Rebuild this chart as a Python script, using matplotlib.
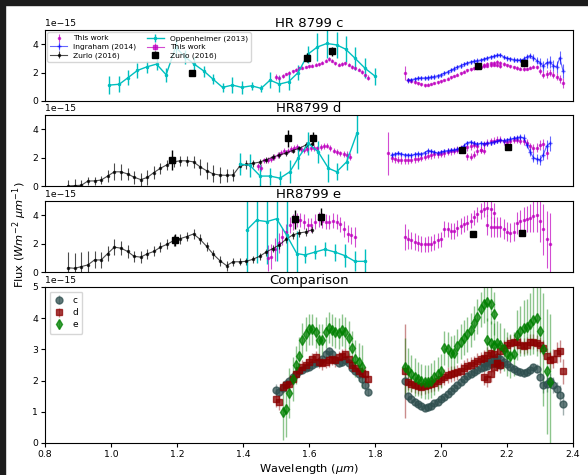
import numpy as np
import matplotlib
matplotlib.use("Agg")
import matplotlib.pyplot as plt
from matplotlib.patches import Rectangle

SCALE = 1e-15  # fluxes below are in units of 1e-15 W m^-2 um^-1

# ---------------- GPI spectra (this work) ----------------
h_wl = [1.50, 1.51, 1.52, 1.53, 1.54, 1.55, 1.56, 1.57, 1.58, 1.59, 1.60, 1.61, 1.62, 1.63, 1.64,
        1.65, 1.66, 1.67, 1.68, 1.69, 1.70, 1.71, 1.72, 1.73, 1.74, 1.75, 1.76, 1.77, 1.78]
k1_wl = [1.89, 1.90, 1.91, 1.92, 1.93, 1.94, 1.95, 1.96, 1.97, 1.98, 1.99, 2.00, 2.01, 2.02, 2.03,
         2.04, 2.05, 2.06, 2.07, 2.08, 2.09, 2.10, 2.11, 2.12, 2.13, 2.14, 2.15, 2.16, 2.17, 2.18]
k2_wl = [2.13, 2.14, 2.15, 2.16, 2.17, 2.18, 2.19, 2.20, 2.21, 2.22, 2.23, 2.24, 2.25, 2.26, 2.27,
         2.28, 2.29, 2.30, 2.31, 2.32, 2.33, 2.34, 2.35, 2.36, 2.37]

c_h_flux = [1.70, 1.65, 1.75, 1.90, 2.00, 2.10, 2.20, 2.30, 2.35, 2.40, 2.45, 2.50, 2.55, 2.60, 2.70,
            2.85, 2.95, 2.85, 2.65, 2.55, 2.60, 2.65, 2.55, 2.40, 2.30, 2.20, 2.05, 1.85, 1.65]
c_h_err = [0.20, 0.15, 0.12, 0.10, 0.10, 0.10, 0.10, 0.10, 0.10, 0.10, 0.10, 0.10, 0.10, 0.10, 0.10,
           0.12, 0.12, 0.12, 0.12, 0.12, 0.12, 0.12, 0.12, 0.12, 0.12, 0.12, 0.12, 0.15, 0.15]
c_k1_flux = [2.00, 1.50, 1.40, 1.33, 1.25, 1.17, 1.12, 1.14, 1.20, 1.27, 1.33, 1.40, 1.48, 1.57, 1.67,
             1.76, 1.86, 1.96, 2.06, 2.15, 2.22, 2.29, 2.35, 2.40, 2.44, 2.48, 2.52, 2.55, 2.52, 2.50]
c_k1_err = [0.50, 0.15, 0.12, 0.10, 0.10, 0.10, 0.10, 0.10, 0.10, 0.10, 0.10, 0.10, 0.10, 0.10, 0.10,
            0.10, 0.10, 0.10, 0.10, 0.10, 0.10, 0.10, 0.10, 0.10, 0.10, 0.10, 0.10, 0.12, 0.12, 0.15]
c_k2_flux = [2.55, 2.60, 2.65, 2.70, 2.75, 2.70, 2.60, 2.52, 2.45, 2.38, 2.32, 2.27, 2.25, 2.28, 2.35,
             2.42, 2.38, 2.10, 1.85, 1.90, 2.00, 1.85, 1.72, 1.55, 1.25]
c_k2_err = [0.12, 0.12, 0.12, 0.12, 0.12, 0.12, 0.12, 0.12, 0.12, 0.12, 0.12, 0.12, 0.12, 0.12, 0.12,
            0.12, 0.15, 0.20, 0.25, 0.25, 0.25, 0.25, 0.25, 0.30, 0.35]

d_h_flux = [1.40, 1.30, 1.80, 1.85, 1.90, 2.05, 2.20, 2.35, 2.45, 2.50, 2.60, 2.70, 2.75, 2.60, 2.55,
            2.60, 2.65, 2.70, 2.65, 2.75, 2.80, 2.85, 2.70, 2.50, 2.40, 2.30, 2.25, 2.20, 2.05]
d_h_err = [0.25, 0.25, 0.20, 0.20, 0.20, 0.20, 0.20, 0.20, 0.20, 0.20, 0.20, 0.20, 0.20, 0.20, 0.20,
           0.20, 0.20, 0.20, 0.20, 0.20, 0.20, 0.20, 0.20, 0.20, 0.20, 0.20, 0.20, 0.25, 0.25]
d_k1_flux = [2.30, 1.95, 1.88, 1.85, 1.83, 1.80, 1.82, 1.86, 1.88, 1.92, 1.98, 2.05, 2.12, 2.18, 2.22,
             2.23, 2.26, 2.32, 2.40, 2.46, 2.50, 2.55, 2.62, 2.68, 2.74, 2.82, 2.90, 2.85, 2.55, 2.50]
d_k1_err = [1.50, 0.25, 0.25, 0.25, 0.25, 0.25, 0.25, 0.25, 0.25, 0.25, 0.25, 0.25, 0.25, 0.25, 0.25,
            0.25, 0.25, 0.25, 0.25, 0.25, 0.25, 0.25, 0.25, 0.25, 0.25, 0.25, 0.25, 0.25, 0.25, 0.25]
d_k2_flux = [2.10, 2.05, 2.20, 2.45, 2.55, 2.95, 3.05, 3.15, 3.20, 3.25, 3.25, 3.15, 3.10, 3.15, 3.25,
             3.25, 3.20, 3.15, 3.05, 2.80, 2.65, 2.70, 2.90, 2.95, 2.30]
d_k2_err = [0.25, 0.25, 0.25, 0.25, 0.25, 0.25, 0.25, 0.25, 0.25, 0.25, 0.25, 0.25, 0.25, 0.25, 0.25,
            0.25, 0.25, 0.25, 0.25, 0.25, 0.30, 0.30, 0.35, 0.35, 0.40]

e_h_wl = [1.52, 1.53, 1.54, 1.55, 1.56, 1.57, 1.58, 1.59, 1.60, 1.61, 1.62, 1.63, 1.64, 1.65, 1.66,
          1.67, 1.68, 1.69, 1.70, 1.71, 1.72, 1.73, 1.74, 1.75, 1.76]
e_h_flux = [1.00, 1.08, 1.60, 2.05, 2.50, 2.80, 3.30, 3.50, 3.65, 3.65, 3.55, 3.30, 3.30, 3.55, 3.70,
            3.62, 3.55, 3.52, 3.62, 3.55, 3.35, 3.05, 2.70, 2.60, 2.45]
e_h_err = [0.90, 0.90, 0.80, 0.70, 0.60, 0.60, 0.55, 0.55, 0.50, 0.50, 0.50, 0.50, 0.50, 0.50, 0.50,
           0.50, 0.50, 0.50, 0.50, 0.50, 0.55, 0.55, 0.60, 0.60, 0.70]
e_k1_wl = [1.89, 1.90, 1.91, 1.92, 1.93, 1.94, 1.95, 1.96, 1.97, 1.98, 1.99, 2.00, 2.01, 2.02, 2.03,
           2.04, 2.05, 2.06, 2.07, 2.08, 2.09, 2.10, 2.11, 2.12, 2.13, 2.14, 2.15, 2.16]
e_k1_flux = [2.45, 2.35, 2.22, 2.12, 2.05, 1.98, 1.95, 1.96, 2.00, 2.10, 2.22, 2.30, 3.05, 3.00, 2.88,
             2.90, 3.10, 3.25, 3.38, 3.48, 3.62, 3.85, 4.05, 4.28, 4.45, 4.52, 4.45, 4.15]
e_k1_err = [0.90, 0.70, 0.60, 0.60, 0.55, 0.55, 0.55, 0.55, 0.55, 0.55, 0.55, 0.55, 0.55, 0.55, 0.55,
            0.55, 0.55, 0.55, 0.55, 0.55, 0.55, 0.55, 0.55, 0.55, 0.60, 0.60, 0.65, 0.70]
e_k2_wl = [2.14, 2.15, 2.16, 2.17, 2.18, 2.19, 2.20, 2.21, 2.22, 2.23, 2.24, 2.25, 2.26, 2.27, 2.28,
           2.29, 2.30, 2.31, 2.32, 2.33]
e_k2_flux = [3.30, 3.20, 3.15, 3.20, 3.15, 3.00, 2.85, 2.78, 2.85, 3.45, 3.60, 3.68, 3.72, 3.82, 3.95,
             4.00, 3.60, 3.00, 2.30, 1.95]
e_k2_err = [0.70, 0.70, 0.70, 0.70, 0.70, 0.70, 0.70, 0.70, 0.70, 0.80, 0.80, 0.90, 0.90, 1.00, 1.10,
            1.20, 1.50, 1.80, 2.00, 2.20]

# wavelength positions of the GPI channels in the HR8799 d and e panels
d_h_wl_panel = [1.445, 1.455, 1.465, 1.475, 1.485, 1.495, 1.505, 1.515, 1.525, 1.535, 1.545, 1.555,
                1.565, 1.575, 1.585, 1.595, 1.605, 1.615, 1.625, 1.635, 1.645, 1.655, 1.665, 1.675,
                1.685, 1.695, 1.705, 1.715, 1.725]
d_k1_wl_panel = [1.84, 1.85, 1.86, 1.87, 1.88, 1.89, 1.90, 1.91, 1.92, 1.93, 1.94, 1.95, 1.96, 1.97,
                 1.98, 1.99, 2.00, 2.01, 2.02, 2.03, 2.04, 2.05, 2.06, 2.07, 2.08, 2.09, 2.10, 2.11,
                 2.12, 2.13]
d_k2_wl_panel = [2.08, 2.09, 2.10, 2.11, 2.12, 2.13, 2.14, 2.15, 2.16, 2.17, 2.18, 2.19, 2.20, 2.21,
                 2.22, 2.23, 2.24, 2.25, 2.26, 2.27, 2.28, 2.29, 2.30, 2.31, 2.32]
e_h_wl_panel = [1.475, 1.486, 1.497, 1.508, 1.519, 1.530, 1.541, 1.552, 1.563, 1.574, 1.585, 1.596,
                1.607, 1.618, 1.629, 1.640, 1.651, 1.662, 1.673, 1.684, 1.695, 1.706, 1.717, 1.728,
                1.739]

# ---------------- Literature data ----------------
ingraham_c_wl = [1.90, 1.91, 1.92, 1.93, 1.94, 1.95, 1.96, 1.97, 1.98, 1.99, 2.00, 2.01, 2.02, 2.03,
                 2.04, 2.05, 2.06, 2.07, 2.08, 2.09, 2.10, 2.11, 2.12, 2.13, 2.14, 2.15, 2.16, 2.17,
                 2.18, 2.19, 2.20, 2.21, 2.22, 2.23, 2.24, 2.25, 2.26, 2.27, 2.28, 2.29, 2.30, 2.31,
                 2.32, 2.33, 2.34, 2.35, 2.36, 2.37]
ingraham_c_flux = [1.45, 1.50, 1.55, 1.60, 1.62, 1.62, 1.65, 1.68, 1.72, 1.78, 1.85, 1.95, 2.05, 2.17,
                   2.28, 2.40, 2.50, 2.58, 2.68, 2.75, 2.80, 2.85, 2.88, 2.95, 3.02, 3.10, 3.15, 3.22,
                   3.25, 3.10, 3.00, 2.98, 2.92, 2.88, 2.87, 2.95, 3.10, 3.20, 3.05, 2.85, 2.70, 2.45,
                   2.70, 2.75, 2.50, 2.40, 3.05, 2.10]
ingraham_c_err = [0.15, 0.15, 0.15, 0.15, 0.15, 0.15, 0.15, 0.15, 0.15, 0.15, 0.15, 0.15, 0.15, 0.15,
                  0.15, 0.15, 0.15, 0.15, 0.15, 0.15, 0.15, 0.15, 0.15, 0.15, 0.15, 0.15, 0.15, 0.15,
                  0.15, 0.15, 0.15, 0.15, 0.15, 0.15, 0.15, 0.20, 0.20, 0.20, 0.25, 0.25, 0.30, 0.35,
                  0.35, 0.40, 0.40, 0.45, 0.45, 0.50]

ingraham_d_wl = [1.85, 1.86, 1.87, 1.88, 1.89, 1.90, 1.91, 1.92, 1.93, 1.94, 1.95, 1.96, 1.97, 1.98,
                 1.99, 2.00, 2.01, 2.02, 2.03, 2.04, 2.05, 2.06, 2.07, 2.08, 2.09, 2.10, 2.11, 2.12,
                 2.13, 2.14, 2.15, 2.16, 2.17, 2.18, 2.19, 2.20, 2.21, 2.22, 2.23, 2.24, 2.25, 2.26,
                 2.27, 2.28, 2.29, 2.30, 2.31, 2.32, 2.33]
ingraham_d_flux = [2.18, 2.25, 2.30, 2.25, 2.20, 2.18, 2.15, 2.22, 2.28, 2.25, 2.35, 2.50, 2.45, 2.38,
                   2.32, 2.40, 2.45, 2.50, 2.52, 2.55, 2.60, 2.70, 2.85, 3.05, 3.10, 3.00, 2.95, 3.00,
                   2.98, 3.00, 3.05, 3.10, 3.15, 3.22, 3.20, 3.25, 3.30, 3.35, 3.40, 3.45, 3.40, 2.90,
                   2.40, 2.00, 1.90, 1.85, 2.20, 2.80, 3.00]
ingraham_d_err = [0.20, 0.15, 0.15, 0.15, 0.15, 0.15, 0.15, 0.15, 0.15, 0.15, 0.15, 0.15, 0.15, 0.15,
                  0.15, 0.15, 0.15, 0.15, 0.15, 0.15, 0.15, 0.15, 0.15, 0.15, 0.15, 0.15, 0.15, 0.15,
                  0.15, 0.15, 0.15, 0.15, 0.15, 0.15, 0.15, 0.15, 0.20, 0.20, 0.20, 0.20, 0.25, 0.25,
                  0.30, 0.30, 0.35, 0.35, 0.40, 0.45, 0.50]

oppenheimer_c_wl = [0.995, 1.025, 1.052, 1.080, 1.108, 1.138, 1.167, 1.196, 1.224, 1.252, 1.282,
                    1.310, 1.338, 1.368, 1.396, 1.426, 1.455, 1.482, 1.510, 1.538, 1.567, 1.597,
                    1.625, 1.654, 1.684, 1.711, 1.740, 1.770, 1.800]
oppenheimer_c_flux = [1.12, 1.18, 1.65, 2.15, 2.40, 2.60, 1.85, 3.80, 3.10, 2.60, 2.10, 1.52, 0.96,
                      1.12, 0.96, 1.07, 0.89, 1.47, 1.19, 1.35, 2.00, 3.30, 3.80, 4.05, 3.95, 3.65,
                      3.00, 2.30, 1.75]
oppenheimer_c_err = [0.65, 0.55, 0.55, 0.50, 0.40, 0.40, 0.50, 0.60, 0.50, 0.50, 0.40, 0.35, 0.30,
                     0.55, 0.45, 0.30, 0.25, 0.55, 0.55, 0.55, 0.55, 0.60, 1.00, 1.00, 0.90, 0.90,
                     0.80, 0.70, 0.60]

oppenheimer_d_wl = [1.391, 1.421, 1.452, 1.482, 1.512, 1.542, 1.568, 1.598, 1.628, 1.659, 1.684,
                    1.714, 1.745]
oppenheimer_d_flux = [1.55, 1.45, 0.70, 0.70, 0.55, 1.00, 2.00, 3.00, 2.40, 1.25, 1.00, 1.70, 3.70]
oppenheimer_d_err = [0.80, 0.80, 0.80, 0.60, 0.50, 0.80, 0.80, 0.80, 0.80, 1.00, 0.60, 0.60, 1.40]

oppenheimer_e_wl = [1.411, 1.441, 1.472, 1.502, 1.532, 1.563, 1.588, 1.618, 1.648, 1.679, 1.709,
                    1.739, 1.770]
oppenheimer_e_flux = [2.95, 3.65, 3.55, 3.75, 2.60, 1.30, 1.20, 1.40, 1.60, 1.40, 1.15, 0.75, 0.75]
oppenheimer_e_err = [3.00, 3.00, 3.00, 3.00, 3.00, 1.60, 0.60, 0.50, 0.50, 0.60, 0.80, 0.70, 0.90]

zurlo_ifs_wl = [0.87, 0.89, 0.91, 0.93, 0.95, 0.97, 0.99, 1.01, 1.03, 1.05, 1.07, 1.09, 1.11, 1.13,
                1.15, 1.17, 1.19, 1.21, 1.23, 1.25, 1.27, 1.29, 1.31, 1.33, 1.35, 1.37, 1.39, 1.41,
                1.43, 1.45, 1.47, 1.49, 1.51, 1.53, 1.55, 1.57, 1.59, 1.61]
zurlo_d_flux = [0.00, 0.03, 0.05, 0.35, 0.36, 0.42, 0.70, 1.00, 1.00, 0.85, 0.62, 0.45, 0.60, 0.95,
                1.25, 1.50, 1.70, 1.78, 1.77, 1.70, 1.35, 1.07, 0.85, 0.77, 0.75, 0.78, 1.40, 1.52,
                1.60, 1.68, 1.85, 2.03, 2.18, 2.32, 2.50, 2.65, 2.88, 2.95]
zurlo_d_err = [0.45, 0.45, 0.40, 0.30, 0.30, 0.30, 0.45, 0.60, 0.55, 0.45, 0.45, 0.50, 0.50, 0.45,
               0.40, 0.35, 0.35, 0.35, 0.35, 0.40, 0.55, 0.60, 0.60, 0.55, 0.45, 0.40, 0.35, 0.30,
               0.25, 0.20, 0.20, 0.20, 0.20, 0.20, 0.20, 0.20, 0.20, 0.20]
zurlo_e_flux = [0.30, 0.26, 0.38, 0.50, 0.85, 0.85, 1.30, 1.75, 1.68, 1.45, 1.10, 1.05, 1.28, 1.45,
                1.75, 1.95, 2.22, 2.35, 2.50, 2.68, 2.30, 1.80, 1.25, 0.80, 0.45, 0.72, 0.72, 0.75,
                0.90, 1.10, 1.40, 1.65, 1.90, 2.30, 2.60, 2.75, 2.82, 2.98]
zurlo_e_err = [1.10, 1.10, 1.05, 1.00, 0.60, 0.55, 0.55, 0.55, 0.50, 0.45, 0.40, 0.40, 0.35, 0.35,
               0.35, 0.35, 0.40, 0.35, 0.35, 0.35, 0.35, 0.30, 0.30, 0.35, 0.35, 0.30, 0.25, 0.25,
               0.25, 0.25, 0.25, 0.25, 0.25, 0.25, 0.25, 0.25, 0.25, 0.25]

zurlo_phot_c_wl = [1.245, 1.594, 1.670, 2.112, 2.252]
zurlo_phot_c_flux = [1.95, 3.05, 3.50, 2.50, 2.70]
zurlo_phot_c_err = [0.15, 0.30, 0.30, 0.15, 0.15]
zurlo_phot_d_wl = [1.185, 1.537, 1.611, 2.063, 2.204]
zurlo_phot_d_flux = [1.85, 3.35, 3.35, 2.55, 2.75]
zurlo_phot_d_err = [0.70, 0.60, 0.45, 0.15, 0.15]
zurlo_phot_e_wl = [1.194, 1.558, 1.636, 2.098, 2.246]
zurlo_phot_e_flux = [2.25, 3.70, 3.90, 2.70, 2.75]
zurlo_phot_e_err = [0.40, 0.70, 0.60, 0.10, 0.10]


def f(values):
    return np.asarray(values) * SCALE


plt.rcParams['font.family'] = ['DejaVu Sans']
fig = plt.figure(figsize=(5.88, 4.75), dpi=100)

# dark frame along the top and left edges of the canvas
fig.patches.append(Rectangle((0, 1 - 5 / 475), 1, 5 / 475, transform=fig.transFigure,
                             color='#1c1c1c', zorder=-5))
fig.patches.append(Rectangle((0, 0), 5 / 588, 1, transform=fig.transFigure,
                             color='#1c1c1c', zorder=-5))

L, W = 45 / 588, 528 / 588


def axes_px(top, bottom):
    return fig.add_axes([L, 1 - bottom / 475, W, (bottom - top) / 475])


ax_c = axes_px(30, 101)
ax_d = axes_px(115, 186)
ax_e = axes_px(201, 272)
ax_cmp = axes_px(287, 443)

TICK = 6.7
MAG = dict(color='m', alpha=0.7, fmt='.', ms=3, elinewidth=0.8, capsize=0)
BLUE = dict(color='b', alpha=0.6, fmt='+-', ms=3, lw=0.8, elinewidth=0.8, capsize=0)
BLACK = dict(color='k', alpha=0.7, fmt='.-', ms=3, lw=0.8, elinewidth=0.8, capsize=0)
CYAN = dict(color='c', fmt='.-', ms=3, lw=1.0, elinewidth=1.0, capsize=0)
SQ = dict(color='k', fmt='s', ms=4.5, elinewidth=1.0, capsize=0, zorder=5)

# HR 8799 c
ax_c.errorbar(h_wl, f(c_h_flux), yerr=f(c_h_err), label='This work', **MAG)
ax_c.errorbar(k1_wl, f(c_k1_flux), yerr=f(c_k1_err), **MAG)
ax_c.errorbar(k2_wl, f(c_k2_flux), yerr=f(c_k2_err), **MAG)
ax_c.errorbar(ingraham_c_wl, f(ingraham_c_flux), yerr=f(ingraham_c_err), label='Ingraham (2014)', **BLUE)
ax_c.errorbar([], [], yerr=[], label='Zurlo (2016)', **BLACK)
ax_c.errorbar(oppenheimer_c_wl, f(oppenheimer_c_flux), yerr=f(oppenheimer_c_err),
              label='Oppenheimer (2013)', **CYAN)
ax_c.errorbar([], [], yerr=[], color='m', alpha=0.7, fmt='s-', ms=3, lw=0.8, label='This work')
ax_c.errorbar(zurlo_phot_c_wl, f(zurlo_phot_c_flux), yerr=f(zurlo_phot_c_err),
              label='Zurlo (2016)', **SQ)
ax_c.legend(loc='upper left', ncol=2, fontsize=5.4, framealpha=0.8, borderpad=0.4,
            labelspacing=0.25, handlelength=2.2, columnspacing=1.5, borderaxespad=0.3)
ax_c.set_title('HR 8799 c', fontsize=9.5, pad=1.5)

# HR8799 d
ax_d.errorbar(d_h_wl_panel, f(d_h_flux), yerr=f(d_h_err), **MAG)
ax_d.errorbar(d_k1_wl_panel, f(d_k1_flux), yerr=f(d_k1_err), **MAG)
ax_d.errorbar(d_k2_wl_panel, f(d_k2_flux), yerr=f(d_k2_err), **MAG)
ax_d.errorbar(ingraham_d_wl, f(ingraham_d_flux), yerr=f(ingraham_d_err), **BLUE)
ax_d.errorbar(zurlo_ifs_wl, f(zurlo_d_flux), yerr=f(zurlo_d_err), **BLACK)
ax_d.errorbar(oppenheimer_d_wl, f(oppenheimer_d_flux), yerr=f(oppenheimer_d_err), **CYAN)
ax_d.errorbar(zurlo_phot_d_wl, f(zurlo_phot_d_flux), yerr=f(zurlo_phot_d_err), **SQ)
ax_d.set_title('HR8799 d', fontsize=9.5, pad=1.5)

# HR8799 e
ax_e.errorbar(e_h_wl_panel, f(e_h_flux), yerr=f(e_h_err), **MAG)
ax_e.errorbar(e_k1_wl, f(e_k1_flux), yerr=f(e_k1_err), **MAG)
ax_e.errorbar(e_k2_wl, f(e_k2_flux), yerr=f(e_k2_err), **MAG)
ax_e.errorbar(zurlo_ifs_wl, f(zurlo_e_flux), yerr=f(zurlo_e_err), **BLACK)
ax_e.errorbar(oppenheimer_e_wl, f(oppenheimer_e_flux), yerr=f(oppenheimer_e_err), **CYAN)
ax_e.errorbar(zurlo_phot_e_wl, f(zurlo_phot_e_flux), yerr=f(zurlo_phot_e_err), **SQ)
ax_e.set_title('HR8799 e', fontsize=9.5, pad=1.5)


# Comparison of the three planets: opaque-ish markers, lighter error bars
def cmp_errorbar(wl, flux, err, fmt, color, label=None):
    cont = ax_cmp.errorbar(wl, f(flux), yerr=f(err), fmt=fmt, color=color, ms=5, alpha=0.75,
                           elinewidth=1.0, capsize=0, label=label)
    for coll in cont[2]:
        coll.set_alpha(0.45)
    return cont


cmp_errorbar(h_wl, c_h_flux, c_h_err, 'o', 'darkslategray', 'c')
cmp_errorbar(k1_wl, c_k1_flux, c_k1_err, 'o', 'darkslategray')
cmp_errorbar(k2_wl, c_k2_flux, c_k2_err, 'o', 'darkslategray')
cmp_errorbar(h_wl, d_h_flux, d_h_err, 's', 'darkred', 'd')
cmp_errorbar(k1_wl, d_k1_flux, d_k1_err, 's', 'darkred')
cmp_errorbar(k2_wl, d_k2_flux, d_k2_err, 's', 'darkred')
cmp_errorbar(e_h_wl, e_h_flux, e_h_err, 'd', 'green', 'e')
cmp_errorbar(e_k1_wl, e_k1_flux, e_k1_err, 'd', 'green')
cmp_errorbar(e_k2_wl, e_k2_flux, e_k2_err, 'd', 'green')
ax_cmp.legend(loc='upper left', fontsize=6.5, framealpha=0.8, handlelength=1.2,
              labelspacing=0.35, borderpad=0.5)
ax_cmp.set_title('Comparison', fontsize=9.5, pad=1.5)
ax_cmp.set_xlabel(r'Wavelength ($\mu m$)', fontsize=8.2, labelpad=2)

for ax in (ax_c, ax_d, ax_e):
    ax.set_xlim(0.8, 2.4)
    ax.set_ylim(0, 5e-15)
    ax.set_yticks([0, 2e-15, 4e-15])
    ax.tick_params(axis='x', bottom=False, labelbottom=False)
ax_cmp.set_xlim(0.8, 2.4)
ax_cmp.set_ylim(0, 5e-15)
ax_cmp.set_yticks([0, 1e-15, 2e-15, 3e-15, 4e-15, 5e-15])
ax_cmp.set_xticks([0.8, 1.0, 1.2, 1.4, 1.6, 1.8, 2.0, 2.2, 2.4])

for ax in (ax_c, ax_d, ax_e, ax_cmp):
    ax.tick_params(labelsize=TICK, length=3, width=0.8, pad=2)
    ax.yaxis.get_offset_text().set_fontsize(TICK)

fig.text(20 / 588, 1 - 235 / 475, r'Flux ($Wm^{-2}$ $\mu m^{-1}$)', rotation=90,
         ha='center', va='center', fontsize=8.2)

fig.savefig('out.png', dpi=100)
